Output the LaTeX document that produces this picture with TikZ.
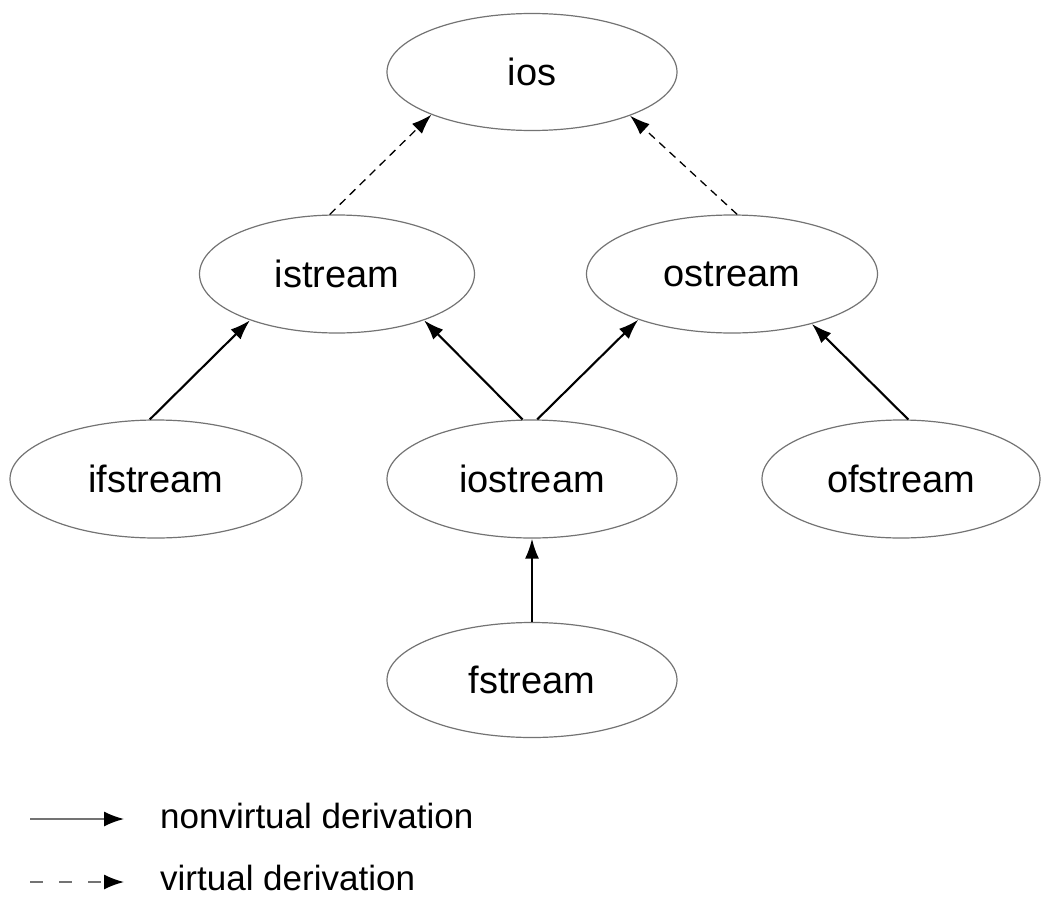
\documentclass[tikz,border=0pt]{standalone}
\usepackage{fontspec}
\setmainfont{Liberation Sans}
\usetikzlibrary{arrows.meta, shapes.geometric}

\begin{document}
\begin{tikzpicture}[
        % Define styles for consistency
        cls/.style={ellipse, draw=black!55, line width=1.2pt, inner sep=0pt,
            minimum width=290pt, minimum height=118pt,
            font=\fontsize{38}{44}\selectfont},
        nonvirt/.style={black, line width=2.1pt, -{Latex[length=20pt, width=14pt]}},
        virt/.style={black, line width=1.3pt, dash pattern=on 8pt off 6pt,
            -{Latex[length=20pt, width=14pt]}},
        legendline/.style={black!55, line width=1.6pt,
            -{Latex[length=20pt, width=15pt, color=black]}},
        legendtext/.style={anchor=base west, inner sep=0pt, text depth=0pt,
            font=\fontsize{35}{42}\selectfont},
        x=1pt, y=-1pt
    ]

        \useasboundingbox (0,0) rectangle (1042,897);

        % --- Class nodes ---
        % Top
        \node[cls, minimum height=117pt] (ios) at (532, 72) {ios};
        
        % Second row
        \node[cls, minimum width=275pt] (istream) at (337, 274) {istream};
        \node[cls, minimum width=291pt] (ostream) at (732, 274) {ostream};
        
        % Third row
        \node[cls, minimum width=292pt] (ifstream) at (156, 479) {ifstream};
        \node[cls] (iostream) at (532, 479) {iostream};
        \node[cls, minimum width=278pt] (ofstream) at (901, 479) {ofstream};
        
        % Bottom
        \node[cls, minimum height=115pt] (fstream) at (532, 680) {fstream};

        % --- Virtual derivations ---
        \draw[virt] (istream.97) -- (ios.203);
        \draw[virt] (ostream.85) -- (ios.336);

        % --- Nonvirtual derivations ---
        \draw[nonvirt] (ifstream.96) -- (istream.208);
        \draw[nonvirt] (iostream.99) -- (istream.332);
        \draw[nonvirt] (iostream.85) -- (ostream.206);
        \draw[nonvirt] (ofstream.83) -- (ostream.328);
        \draw[nonvirt] (fstream.north) -- (iostream.south);

        % --- Legend ---
        \coordinate (solid_from) at (30, 819);
        \coordinate (solid_to) at (124, 819);
        \coordinate (dash_from) at (30, 882);
        \coordinate (dash_to) at (124, 882);
        
        \draw[legendline] (solid_from) -- (solid_to);
        \draw[legendline, dash pattern=on 13pt off 16pt] (dash_from) -- (dash_to);
        
        \node[legendtext] (nonvirt_label) at (160, 828) {nonvirtual derivation};
        \node[legendtext] (virt_label) at (160, 890) {virtual derivation};

    \end{tikzpicture}
\end{document}
